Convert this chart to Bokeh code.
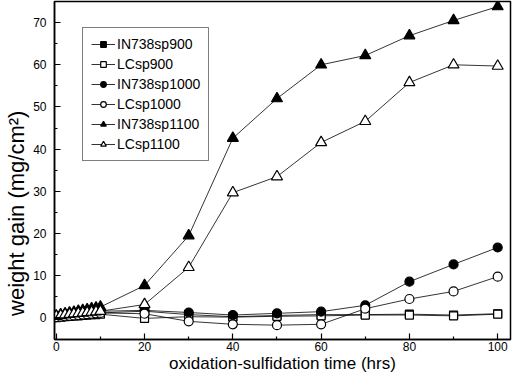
from bokeh.plotting import figure
from bokeh.embed import file_html
from bokeh.resources import INLINE
from bokeh.models import Range1d, FixedTicker, Legend, LegendItem

hours = [0, 1, 2, 3, 4, 5, 6, 7, 8, 9, 10, 20, 30, 40, 50, 60, 70, 80, 90, 100]

in738sp900 = [0.2, 0.3, 0.4, 0.5, 0.6, 0.7, 0.8, 0.9, 1.0, 1.1, 1.2, 1.6, 0.8, 0.3, 0.6, 0.8, 0.8, 0.9, 0.7, 1.0]
lcsp900 = [0.1, 0.2, 0.3, 0.4, 0.5, 0.5, 0.6, 0.7, 0.8, 0.8, 0.9, -0.1, 0.3, 0.2, 0.4, 0.5, 0.7, 0.7, 0.5, 0.9]
in738sp1000 = [0.3, 0.4, 0.5, 0.6, 0.8, 0.9, 1.0, 1.2, 1.3, 1.4, 1.6, 1.8, 1.3, 0.7, 1.1, 1.5, 3.0, 8.6, 12.7, 16.7]
lcsp1000 = [0.2, 0.3, 0.4, 0.5, 0.6, 0.7, 0.8, 0.9, 1.0, 1.1, 1.2, 1.0, -0.8, -1.5, -1.7, -1.5, 2.2, 4.5, 6.3, 9.8]
in738sp1100 = [0.5, 0.8, 1.0, 1.2, 1.4, 1.6, 1.8, 2.0, 2.2, 2.4, 2.6, 7.7, 19.5, 42.6, 52.0, 60.0, 62.2, 66.9, 70.5, 73.8]
lcsp1100 = [0.4, 0.6, 0.8, 0.9, 1.0, 1.1, 1.2, 1.3, 1.4, 1.5, 1.6, 3.2, 12.0, 29.7, 33.5, 41.6, 46.6, 55.8, 60.0, 59.7]

series_names = ["IN738sp900", "LCsp900", "IN738sp1000", "LCsp1000", "IN738sp1100", "LCsp1100"]
series_values = [in738sp900, lcsp900, in738sp1000, lcsp1000, in738sp1100, lcsp1100]
markers = ["square", "square", "circle", "circle", "triangle", "triangle"]
fills = ["black", "white", "black", "white", "black", "white"]
sizes = [8, 8, 9, 9, 11, 11]

x_ticks = [0, 20, 40, 60, 80, 100]
y_ticks = [0, 10, 20, 30, 40, 50, 60, 70]
x_title = "oxidation-sulfidation time (hrs)"
y_title = "weight gain (mg/cm\u00b2)"

FONT = "Liberation Sans"

p = figure(width=512, height=375, output_backend="svg", toolbar_location=None,
           x_range=Range1d(-0.4, 102.9), y_range=Range1d(-5.1, 75),
           min_border_left=54, min_border_right=2, min_border_top=1, min_border_bottom=30)

p.grid.visible = False
p.outline_line_color = "black"
p.outline_line_width = 1.5
p.background_fill_color = "white"
p.border_fill_color = "white"

for ax in (p.xaxis[0], p.yaxis[0]):
    ax.axis_line_color = "black"
    ax.axis_line_width = 1.5
    ax.major_tick_in = 6
    ax.major_tick_out = 0
    ax.minor_tick_in = 3
    ax.minor_tick_out = 0
    ax.major_tick_line_color = "black"
    ax.minor_tick_line_color = "black"
    ax.major_tick_line_width = 1.2
    ax.minor_tick_line_width = 1.2
    ax.major_label_text_font = FONT
    ax.major_label_text_font_size = "12px"
    ax.major_label_text_color = "black"
    ax.axis_label_text_font = FONT
    ax.axis_label_text_font_style = "normal"
    ax.axis_label_text_color = "black"

p.xaxis[0].axis_label = x_title
# trailing no-break spaces shift the visible title down along the axis, as in the reference
p.yaxis[0].axis_label = y_title + "\u00a0" * 14
p.xaxis[0].axis_label_text_font_size = "17px"
p.yaxis[0].axis_label_text_font_size = "22px"
p.xaxis[0].ticker = FixedTicker(ticks=x_ticks, minor_ticks=[10, 30, 50, 70, 90])
p.yaxis[0].ticker = FixedTicker(ticks=y_ticks, minor_ticks=[-5, 5, 15, 25, 35, 45, 55, 65, 75])
p.xaxis[0].major_label_standoff = 2
p.xaxis[0].axis_label_standoff = 0
p.yaxis[0].major_label_standoff = 8
p.yaxis[0].axis_label_standoff = 1

items = []
for name, vals, mk, fc, sz in zip(series_names, series_values, markers, fills, sizes):
    ln = p.line(hours, vals, line_color="black", line_width=0.8)
    sc = p.scatter(hours, vals, marker=mk, size=sz, fill_color=fc, line_color="black", line_width=1.2)
    items.append(LegendItem(label=name, renderers=[ln, sc]))

legend = Legend(items=items, location=(28, 178))
legend.label_text_font = FONT
legend.label_text_font_size = "14px"
legend.label_text_color = "black"
legend.border_line_color = "black"
legend.border_line_width = 1.2
legend.background_fill_alpha = 1
legend.glyph_width = 24
legend.glyph_height = 14
legend.label_height = 14
legend.spacing = 4
legend.padding = 8
legend.margin = 0
legend.label_standoff = 2
p.add_layout(legend, "center")

open("out.html", "w").write(file_html(p, INLINE))
